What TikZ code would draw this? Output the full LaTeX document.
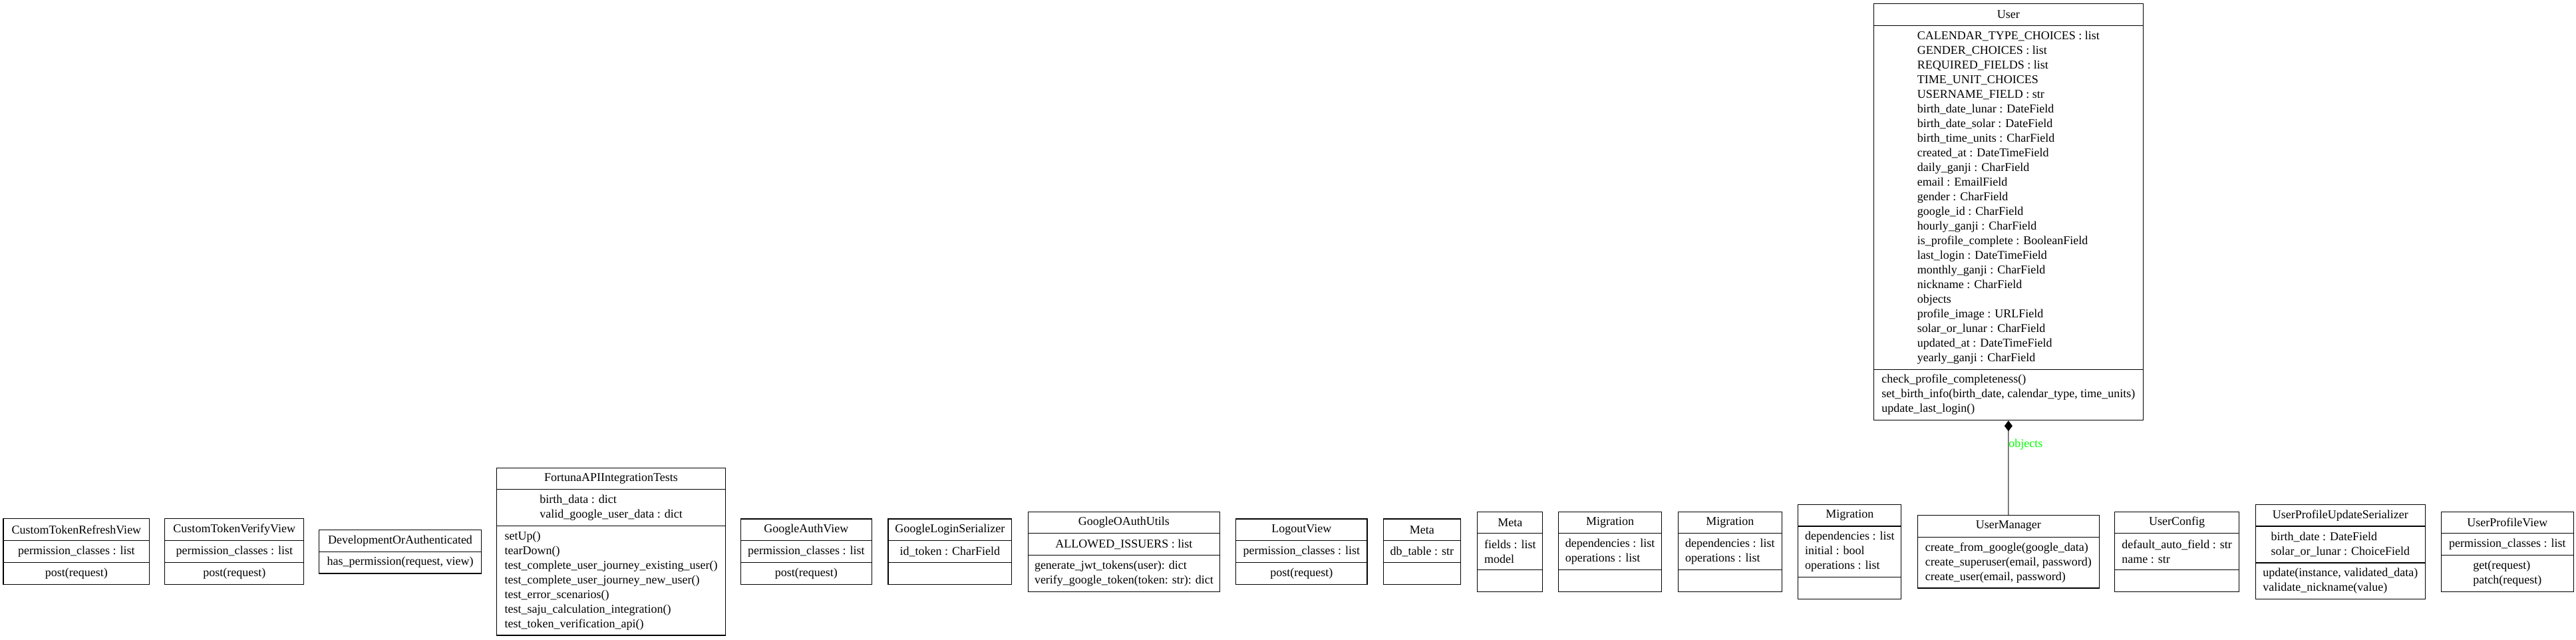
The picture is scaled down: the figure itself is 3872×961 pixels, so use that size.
\documentclass[tikz,border=0pt]{standalone}
\usepackage{fontspec}
\setmainfont{Liberation Serif}
\usetikzlibrary{arrows.meta,fit}
\definecolor{lblgreen}{RGB}{0,255,0}
\tikzset{
 classbox/.style={draw=black, line width=0.8pt, inner sep=0pt},
 sepline/.style={draw=black, line width=0.8pt},
 ctext/.style={font=\fontsize{13.5}{16.5}\selectfont, align=left, inner sep=0pt},
 assoc/.style={draw=black, line width=0.8pt, -{Diamond[length=12pt,width=9pt]}},
 edgelabel/.style={font=\fontsize{13.5}{16.5}\selectfont, text=lblgreen, inner sep=0pt, anchor=west},
}
\newcommand{\umlthree}[9]{%
 \node[classbox, fit={(#2,#4) (#3,#7)}] (#1) {};
 \draw[sepline] (#2,#5) -- (#3,#5);
 \draw[sepline] (#2,#6) -- (#3,#6);
 \node[ctext] (#1-title) at ({(#2+#3)/2},{(#4+#5)/2}) {#8};
 \node[ctext] (#1-attr) at ({(#2+#3)/2},{(#5+#6)/2}) {#9};
 \coordinate (#1-mc) at ({(#2+#3)/2},{(#6+#7)/2});
}
\newcommand{\umlmeth}[2]{\node[ctext] (#1-meth) at (#1-mc) {#2};}
\newcommand{\umltwo}[8]{%
 \node[classbox, fit={(#2,#4) (#3,#6)}] (#1) {};
 \draw[sepline] (#2,#5) -- (#3,#5);
 \node[ctext] (#1-title) at ({(#2+#3)/2},{(#4+#5)/2}) {#7};
 \node[ctext] (#1-meth) at ({(#2+#3)/2},{(#5+#6)/2}) {#8};
}
\begin{document}
\begin{tikzpicture}[x=0.75pt,y=-0.75pt]
\useasboundingbox (0,0) rectangle (3872,961);

% User
\umlthree{user}{2816}{3221.7}{5.7}{38.3}{555.3}{631.7}{User}{CALENDAR\_TYPE\_CHOICES : list\\
GENDER\_CHOICES : list\\
REQUIRED\_FIELDS : list\\
TIME\_UNIT\_CHOICES\\
USERNAME\_FIELD : str\\
birth\_date\_lunar : DateField\\
birth\_date\_solar : DateField\\
birth\_time\_units : CharField\\
created\_at : DateTimeField\\
daily\_ganji : CharField\\
email : EmailField\\
gender : CharField\\
google\_id : CharField\\
hourly\_ganji : CharField\\
is\_profile\_complete : BooleanField\\
last\_login : DateTimeField\\
monthly\_ganji : CharField\\
nickname : CharField\\
objects\\
profile\_image : URLField\\
solar\_or\_lunar : CharField\\
updated\_at : DateTimeField\\
yearly\_ganji : CharField}
\umlmeth{user}{check\_profile\_completeness()\\
set\_birth\_info(birth\_date, calendar\_type, time\_units)\\
update\_last\_login()}

% bottom row
\umlthree{ctrv}{5}{224.8}{779.3}{812.7}{845.3}{878.3}{CustomTokenRefreshView}{permission\_classes : list}
\umlmeth{ctrv}{post(request)}

\umlthree{ctvv}{247.8}{456.8}{779.3}{812.7}{845.3}{878.3}{CustomTokenVerifyView}{permission\_classes : list}
\umlmeth{ctvv}{post(request)}

\umltwo{doa}{479.8}{723.2}{796.7}{829.3}{862}{DevelopmentOrAuthenticated}{has\_permission(request, view)}

\umlthree{fortuna}{746.7}{1090.4}{703.3}{735.7}{790.7}{955}{FortunaAPIIntegrationTests}{birth\_data : dict\\
valid\_google\_user\_data : dict}
\umlmeth{fortuna}{setUp()\\
tearDown()\\
test\_complete\_user\_journey\_existing\_user()\\
test\_complete\_user\_journey\_new\_user()\\
test\_error\_scenarios()\\
test\_saju\_calculation\_integration()\\
test\_token\_verification\_api()}

\umlthree{gav}{1113.2}{1310.5}{780}{812.5}{845.5}{878.3}{GoogleAuthView}{permission\_classes : list}
\umlmeth{gav}{post(request)}

\umlthree{gls}{1335}{1520.8}{780}{812.5}{845.5}{878.3}{GoogleLoginSerializer}{id\_token : CharField}

\umlthree{goau}{1545.3}{1833.6}{769.3}{801.7}{834.7}{889.3}{GoogleOAuthUtils}{ALLOWED\_ISSUERS : list}
\umlmeth{goau}{generate\_jwt\_tokens(user): dict\\
verify\_google\_token(token: str): dict}

\umlthree{logout}{1857.6}{2055}{780}{812.5}{845.5}{878.3}{LogoutView}{permission\_classes : list}
\umlmeth{logout}{post(request)}

\umlthree{metaa}{2079.5}{2195.3}{780}{812.5}{845.5}{878.3}{Meta}{db\_table : str}

\umlthree{metab}{2220.7}{2318.8}{769.3}{801.7}{856.7}{889.3}{Meta}{fields : list\\
model}

\umlthree{miga}{2342.4}{2497.9}{769.3}{801.7}{856.7}{889.3}{Migration}{dependencies : list\\
operations : list}

\umlthree{migb}{2522.6}{2678.2}{769.3}{801.7}{856.7}{889.3}{Migration}{dependencies : list\\
operations : list}

\umlthree{migc}{2702.9}{2857.9}{758.3}{791}{867.3}{900.3}{Migration}{dependencies : list\\
initial : bool\\
operations : list}

\umltwo{um}{2882}{3155.6}{774.3}{807.3}{884}{UserManager}{create\_from\_google(google\_data)\\
create\_superuser(email, password)\\
create\_user(email, password)}

\umlthree{ucfg}{3178.8}{3365.4}{769.3}{801.7}{856.7}{889.3}{UserConfig}{default\_auto\_field : str\\
name : str}

\umlthree{upus}{3390}{3645.5}{758.3}{791}{846}{900.3}{UserProfileUpdateSerializer}{birth\_date : DateField\\
solar\_or\_lunar : ChoiceField}
\umlmeth{upus}{update(instance, validated\_data)\\
validate\_nickname(value)}

\umlthree{upv}{3669.7}{3868}{769.3}{801.7}{834.7}{889.3}{UserProfileView}{permission\_classes : list}
\umlmeth{upv}{get(request)\\
patch(request)}

% composition
\draw[assoc] (um.north) -- node[pos=0.743, edgelabel]{objects} (user.south);
\end{tikzpicture}
\end{document}
